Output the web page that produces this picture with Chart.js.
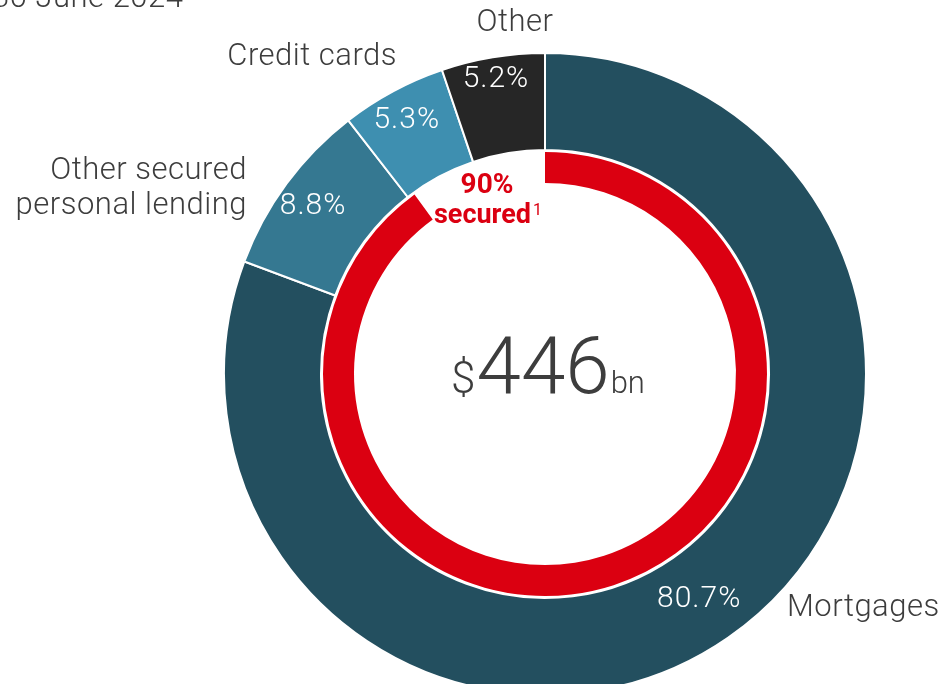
<!DOCTYPE html>
<html>
<head>
<meta charset="utf-8">
<title>Retail lending by product</title>
<script src="https://cdn.jsdelivr.net/npm/chart.js@4.4.1/dist/chart.umd.min.js"></script>
<style>
  html, body { margin: 0; padding: 0; background: #ffffff; overflow: hidden; }
  #wrap { width: 944px; height: 700px; position: relative; }
</style>
</head>
<body>
<div id="wrap"><canvas id="chart" width="944" height="700"></canvas></div>
<script>
// Reporting date and book size
const asOf = '30 June 2024';
const totalBn = 446;

// Lending mix (% of total), clockwise from 12 o'clock
const categories = ['Mortgages', ['Other secured', 'personal lending'], 'Credit cards', 'Other'];
const shares = [80.7, 8.8, 5.3, 5.2];

// Secured vs unsecured split (%) shown on the inner ring
const securedSplit = [90, 10];
const securedLabel = 'secured';

// Styling
const segmentColors = ['#234f5f', '#357891', '#3e8fb0', '#262626'];
const securedColors = ['#db0011', 'rgba(0,0,0,0)'];
const textColor = '#3d3d3d';
const redText = '#db0011';
const FONT = 'Roboto, "Liberation Sans", sans-serif';

// Radial placement of the percentage labels inside the outer ring (0 = inner edge, 1 = outer edge)
const pctLabelDepth = [0.48, 0.66, 0.70, 0.80];
// Category label anchors relative to the ring centre: [dx, baseline dy, align]
const catLabelAnchor = [
  [242, 242, 'left'],
  [-298, -195, 'right'],
  [-148, -309, 'right'],
  [-30, -343, 'center']
];

function setSpacing(ctx, px) {
  if ('letterSpacing' in ctx) ctx.letterSpacing = px + 'px';
}

const labelPlugin = {
  id: 'doughnutText',
  afterDraw(chart) {
    const ctx = chart.ctx;
    const meta = chart.getDatasetMeta(0);
    const first = meta.data[0];
    const cx = first.x, cy = first.y;
    ctx.save();

    // Percentages inside the outer ring
    ctx.fillStyle = '#ffffff';
    ctx.font = '300 30px ' + FONT;
    setSpacing(ctx, 1);
    ctx.textAlign = 'center';
    ctx.textBaseline = 'alphabetic';
    meta.data.forEach((arc, i) => {
      const mid = (arc.startAngle + arc.endAngle) / 2;
      const r = arc.innerRadius + (arc.outerRadius - arc.innerRadius) * pctLabelDepth[i];
      const x = cx + Math.cos(mid) * r;
      const y = cy + Math.sin(mid) * r;
      ctx.fillText(shares[i].toFixed(1) + '%', x, y + 30 * 0.355);
    });

    // Category names outside the ring
    ctx.fillStyle = textColor;
    ctx.font = '300 31px ' + FONT;
    setSpacing(ctx, 0.5);
    categories.forEach((name, i) => {
      const lines = Array.isArray(name) ? name : [name];
      const [dx, dy, align] = catLabelAnchor[i];
      ctx.textAlign = align;
      lines.forEach((line, k) => {
        ctx.fillText(line, cx + dx, cy + dy + k * 35);
      });
    });

    // Date heading
    ctx.textAlign = 'left';
    ctx.fillText(asOf, -8, 7);

    // Total in the centre: "$" + number + "bn"
    setSpacing(ctx, 0);
    const parts = [
      { t: '$', f: '300 44px ' + FONT },
      { t: String(totalBn), f: '300 80px ' + FONT },
      { t: 'bn', f: '300 31px ' + FONT }
    ];
    let total = 0;
    parts.forEach(p => { ctx.font = p.f; p.w = ctx.measureText(p.t).width; total += p.w; });
    let x = cx - total / 2 + 2;
    ctx.textAlign = 'left';
    parts.forEach(p => {
      ctx.font = p.f;
      ctx.fillText(p.t, x, cy + 19);
      x += p.w + 1;
    });

    // Secured share caption in the gap of the red ring
    ctx.fillStyle = redText;
    ctx.textAlign = 'center';
    ctx.font = 'bold 28px ' + FONT;
    ctx.fillText(securedSplit[0] + '%', cx - 58, cy - 181);
    ctx.font = 'bold 27px ' + FONT;
    const wSec = ctx.measureText(securedLabel).width;
    ctx.font = '16px ' + FONT;
    const wSup = ctx.measureText('1').width;
    const startX = cx - 57 - (wSec + wSup + 2) / 2;
    ctx.textAlign = 'left';
    ctx.font = 'bold 27px ' + FONT;
    ctx.fillText(securedLabel, startX, cy - 151);
    ctx.font = '16px ' + FONT;
    ctx.fillText('1', startX + wSec + 2, cy - 159);

    ctx.restore();
  }
};

function draw() {
  new Chart(document.getElementById('chart'), {
    type: 'doughnut',
    data: {
      labels: categories.map(c => Array.isArray(c) ? c.join(' ') : c),
      datasets: [
        {
          data: shares,
          backgroundColor: segmentColors,
          borderColor: '#ffffff',
          borderWidth: 2,
          weight: 97
        },
        {
          // thin white spacer between the two rings
          data: [1],
          backgroundColor: ['rgba(0,0,0,0)'],
          borderWidth: 0,
          weight: 2
        },
        {
          data: securedSplit,
          backgroundColor: securedColors,
          borderWidth: 0,
          weight: 31
        }
      ]
    },
    options: {
      responsive: false,
      animation: false,
      devicePixelRatio: 1,
      cutout: 191,
      layout: { padding: { left: 223, right: 77, top: 52, bottom: 4 } },
      plugins: {
        legend: { display: false },
        tooltip: { enabled: false }
      },
      events: []
    },
    plugins: [labelPlugin]
  });
}

Promise.all([
  document.fonts.load('300 31px Roboto'),
  document.fonts.load('bold 27px Roboto'),
  document.fonts.load('16px Roboto')
]).then(draw, draw);
</script>
</body>
</html>
